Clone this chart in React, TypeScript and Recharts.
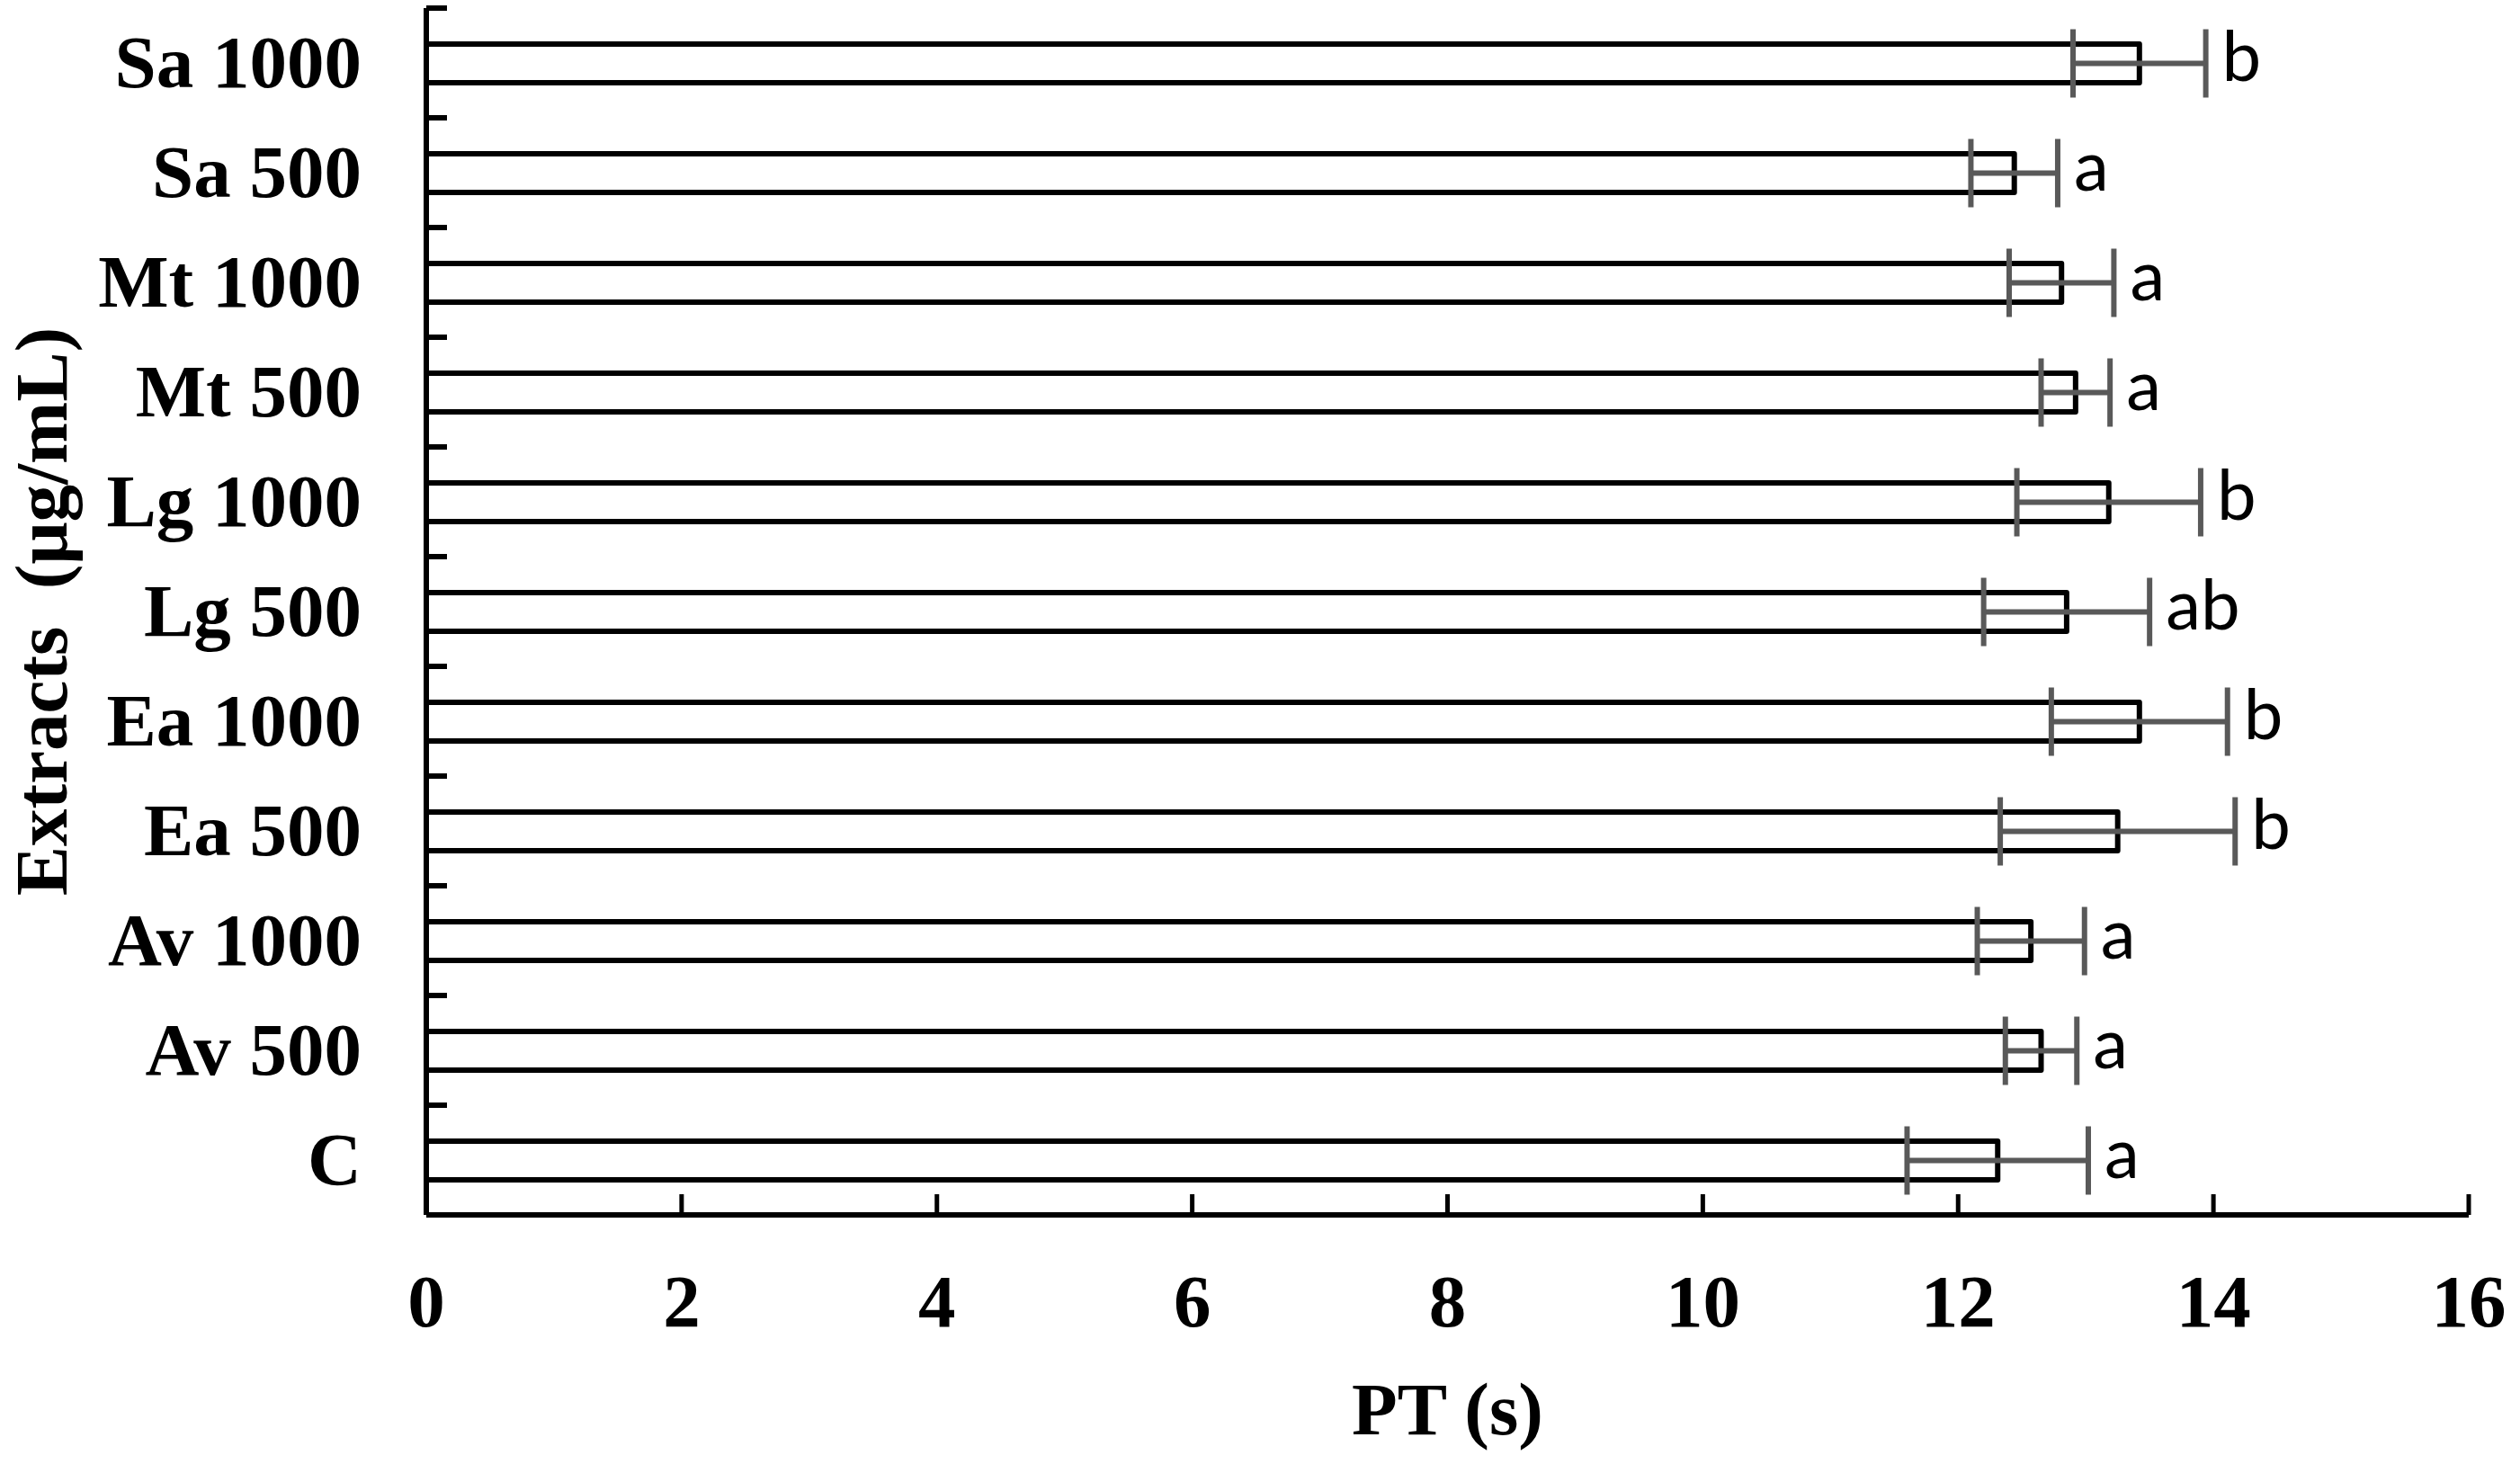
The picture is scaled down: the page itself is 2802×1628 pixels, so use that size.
import React from 'react';
import { BarChart, Bar, XAxis, YAxis, ErrorBar, LabelList, Label } from 'recharts';

const CATEGORIES = ['Sa 1000', 'Sa 500', 'Mt 1000', 'Mt 500', 'Lg 1000', 'Lg 500', 'Ea 1000', 'Ea 500', 'Av 1000', 'Av 500', 'C'];
const PT_MEANS = [13.42, 12.44, 12.81, 12.92, 13.18, 12.85, 13.42, 13.25, 12.57, 12.65, 12.31];
const PT_SD = [0.52, 0.34, 0.41, 0.27, 0.72, 0.65, 0.69, 0.92, 0.42, 0.28, 0.71];
const GROUPS = ['b', 'a', 'a', 'a', 'b', 'ab', 'b', 'b', 'a', 'a', 'a'];
const X_TICKS = [0, 2, 4, 6, 8, 10, 12, 14, 16];

const WIDTH = 2802;
const HEIGHT = 1628;
const MARGIN = { top: 9, right: 57, bottom: 0, left: 0 };
const Y_AXIS_WIDTH = 474;
const X_AXIS_HEIGHT = 277;
const AXIS_X = MARGIN.left + Y_AXIS_WIDTH;
const AXIS_Y = HEIGHT - MARGIN.bottom - X_AXIS_HEIGHT;
const HALF_BAND = (AXIS_Y - MARGIN.top) / CATEGORIES.length / 2;

const SERIF = '"Liberation Serif", "Times New Roman", serif';
const SANS = 'Lato, "Open Sans", sans-serif';
const FONT_SIZE = 83;

const data = CATEGORIES.map((name, i) => ({
  name,
  pt: PT_MEANS[i],
  sd: PT_SD[i],
  grp: GROUPS[i],
}));

function CategoryTick({ x, y, payload }: any) {
  return (
    <g>
      <line x1={AXIS_X} x2={AXIS_X + 23} y1={y - HALF_BAND} y2={y - HALF_BAND} stroke="#000" strokeWidth={6} />
      <line x1={AXIS_X} x2={AXIS_X + 23} y1={y + HALF_BAND} y2={y + HALF_BAND} stroke="#000" strokeWidth={6} />
      <text
        x={AXIS_X - 72}
        y={y + 27}
        textAnchor="end"
        fontFamily={SERIF}
        fontWeight="bold"
        fontSize={FONT_SIZE}
        fill="#000"
      >
        {payload.value}
      </text>
    </g>
  );
}

function ValueTick({ x, payload }: any) {
  return (
    <g>
      <line x1={x} x2={x} y1={AXIS_Y} y2={AXIS_Y - 23} stroke="#000" strokeWidth={5} />
      <text
        x={x}
        y={AXIS_Y + 124}
        textAnchor="middle"
        fontFamily={SERIF}
        fontWeight="bold"
        fontSize={FONT_SIZE}
        fill="#000"
      >
        {payload.value}
      </text>
    </g>
  );
}

function XTitle(props: any) {
  const vb = props.viewBox;
  return (
    <text
      x={vb.x + vb.width / 2}
      y={vb.y + 244}
      textAnchor="middle"
      fontFamily={SERIF}
      fontWeight="bold"
      fontSize={FONT_SIZE}
      fill="#000"
    >
      PT (s)
    </text>
  );
}

function YTitle(props: any) {
  const vb = props.viewBox;
  const cx = vb.x + 74;
  const cy = vb.y + vb.height / 2;
  return (
    <text
      x={cx}
      y={cy}
      transform={`rotate(-90, ${cx}, ${cy})`}
      textAnchor="middle"
      fontFamily={SERIF}
      fontWeight="bold"
      fontSize={FONT_SIZE}
      fill="#000"
    >
      {'Extracts\u00A0\u00A0(μg/mL)'}
    </text>
  );
}

function GroupLetter(props: any) {
  const box = props.viewBox && props.viewBox.width != null ? props.viewBox : props;
  const { x, y, width, height } = box;
  const i = props.index;
  // error bar end in px, using the bar's own scale (width / value)
  const capX = x + width + (PT_SD[i] * width) / PT_MEANS[i];
  return (
    <text x={capX + 18} y={y + height / 2 + 19} fontFamily={SANS} fontSize={78} fill="#000">
      {GROUPS[i]}
    </text>
  );
}

export default function App() {
  return (
    <div style={{ position: 'absolute', left: 0, top: 0, background: '#fff' }}>
      <BarChart width={WIDTH} height={HEIGHT} data={data} layout="vertical" margin={MARGIN}>
        <XAxis
          type="number"
          domain={[0, 16]}
          ticks={X_TICKS}
          interval={0}
          height={X_AXIS_HEIGHT}
          axisLine={{ stroke: '#000', strokeWidth: 6 }}
          tickLine={false}
          tick={<ValueTick />}
        >
          <Label content={<XTitle />} />
        </XAxis>
        <YAxis
          type="category"
          dataKey="name"
          width={Y_AXIS_WIDTH}
          interval={0}
          axisLine={{ stroke: '#000', strokeWidth: 6 }}
          tickLine={false}
          tick={<CategoryTick />}
        >
          <Label content={<YTitle />} />
        </YAxis>
        <Bar
          dataKey="pt"
          fill="#fff"
          stroke="#000"
          strokeWidth={6}
          strokeLinejoin="round"
          barSize={43}
          isAnimationActive={false}
        >
          <ErrorBar
            dataKey="sd"
            direction="x"
            width={38}
            stroke="#595959"
            strokeWidth={6}
            isAnimationActive={false}
          />
          <LabelList dataKey="grp" content={<GroupLetter />} />
        </Bar>
      </BarChart>
    </div>
  );
}
